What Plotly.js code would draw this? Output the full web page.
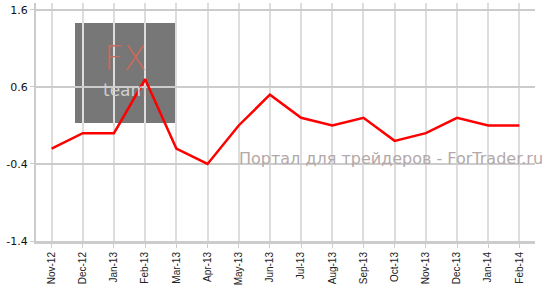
<!DOCTYPE html>
<html>
<head>
<meta charset="utf-8">
<script src="https://cdn.plot.ly/plotly-3.0.1.min.js"></script>
<style>html,body{margin:0;padding:0;background:#fff}#chart{width:552px;height:296px}</style>
</head>
<body>
<div id="chart"></div>
<script>
const months = ["Nov-12","Dec-12","Jan-13","Feb-13","Mar-13","Apr-13","May-13","Jun-13","Jul-13","Aug-13","Sep-13","Oct-13","Nov-13","Dec-13","Jan-14","Feb-14"];
const values = [-0.2, 0.0, 0.0, 0.7, -0.2, -0.4, 0.1, 0.5, 0.2, 0.1, 0.2, -0.1, 0.0, 0.2, 0.1, 0.1];
const yTicks = [-1.4, -0.4, 0.6, 1.6];
const watermark = "Портал для трейдеров - ForTrader.ru";

const trace = {
  x: months.map((m, i) => i), y: values, type: 'scatter', mode: 'lines',
  line: {color: '#ff0000', width: 2.5}, hoverinfo: 'skip'
};
const px = v => (v - 36) / 499;
const py = v => (241 - v) / 238;
const layout = {
  width: 552, height: 296,
  margin: {l: 36, r: 17, t: 3, b: 55},
  paper_bgcolor: '#ffffff', plot_bgcolor: 'rgba(0,0,0,0)',
  showlegend: false,
  xaxis: {
    range: [-0.5, months.length - 0.5], tickvals: months.map((m, i) => i), ticktext: months,
    tickangle: -90, tickfont: {family: 'Liberation Sans, Arial', size: 10, color: '#222'},
    showgrid: true, gridcolor: '#dddddd', gridwidth: 2,
    showline: true, linecolor: '#cccccc', linewidth: 3,
    ticks: 'outside', ticklen: 4, tickcolor: '#cccccc', tickwidth: 1,
    zeroline: false, fixedrange: true
  },
  yaxis: {
    range: [-1.4, 1.69], tickvals: yTicks, ticktext: yTicks.map(v => v.toFixed(1)),
    tickfont: {family: 'DejaVu Sans, Verdana', size: 11, color: '#111'},
    showgrid: true, gridcolor: '#cccccc', gridwidth: 1.5,
    showline: true, linecolor: '#cccccc', linewidth: 2,
    ticks: 'outside', ticklen: 4, tickcolor: '#cccccc',
    zeroline: false, fixedrange: true
  },
  shapes: [{
    type: 'rect', xref: 'paper', yref: 'paper', layer: 'below',
    x0: px(75), x1: px(175), y0: py(123), y1: py(23),
    fillcolor: '#777777', line: {width: 0}
  }],
  annotations: [
    {xref: 'paper', yref: 'paper', x: px(125), y: py(79), text: 'FX',
     showarrow: false, borderpad: 0,
     font: {family: 'DejaVu Sans, sans-serif', size: 34, color: '#c76a5d', weight: 300},
     xanchor: 'center', yanchor: 'bottom'},
    {xref: 'paper', yref: 'paper', x: px(125), y: py(79), text: 'team',
     showarrow: false, borderpad: 0,
     font: {family: 'DejaVu Sans, sans-serif', size: 17, color: '#d0d0d0'},
     xanchor: 'center', yanchor: 'top'},
    {xref: 'paper', yref: 'paper', x: px(545), y: py(158), text: watermark,
     showarrow: false, font: {family: 'DejaVu Sans, Verdana', size: 16, color: '#b3a9a9'},
     xanchor: 'right', yanchor: 'middle'}
  ]
};
Plotly.newPlot('chart', [trace], layout, {staticPlot: true, displayModeBar: false});
</script>
</body>
</html>
